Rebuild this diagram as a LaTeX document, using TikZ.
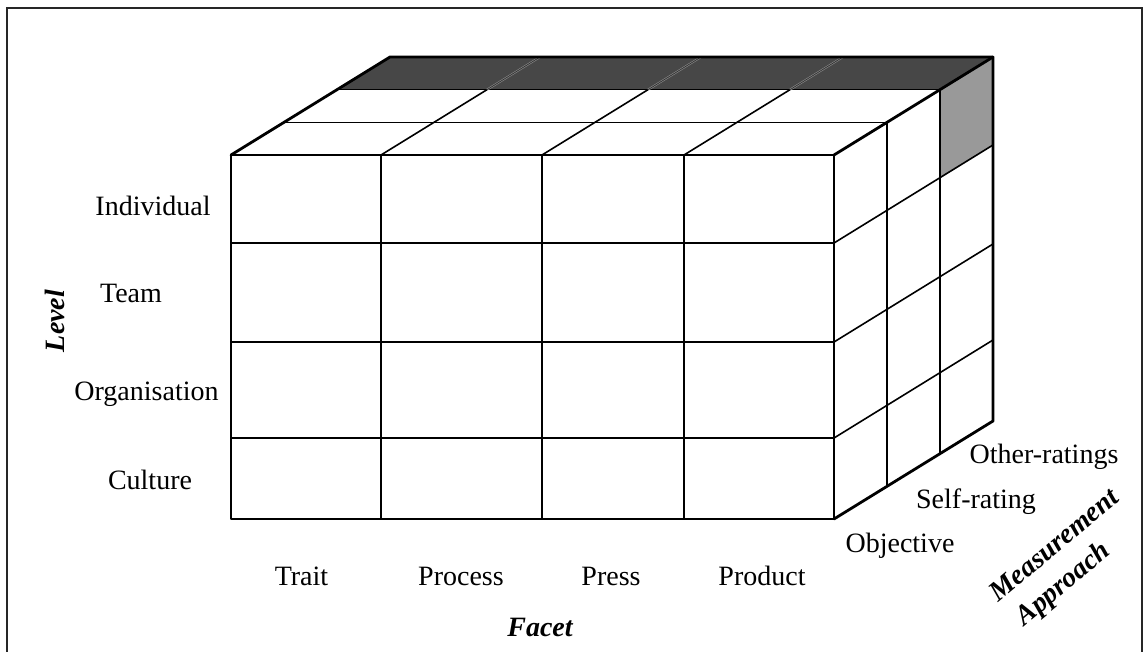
\documentclass[tikz,border=0pt]{standalone}
\usepackage{fontspec}
\setmainfont{Liberation Serif}
\begin{document}
\begin{tikzpicture}[x=1pt,y=-1pt,
  outer/.style={line width=2.8pt, line join=round, line cap=round},
  inner/.style={line width=1.6pt},
  seam/.style={line width=0.6pt, draw=black!45, double=black!80, double distance=0.8pt},
  lbl/.style={font=\fontsize{28}{32}\selectfont, inner sep=0pt, anchor=base},
  axislbl/.style={font=\fontsize{28}{32}\selectfont\bfseries\itshape, inner sep=0pt},
  frameline/.style={line width=2.2pt, draw=black!85}]
\useasboundingbox (0,0) rectangle (1147,652);

% outer frame, open at the bottom
\draw[frameline] (7,652) -- (7,8) -- (1142,8) -- (1142,652);

% corners of the block
\coordinate (ftl) at (231,155);
\coordinate (ftr) at (834,155);
\coordinate (fbl) at (231,519);
\coordinate (fbr) at (834,519);
\coordinate (btl) at (390,57);
\coordinate (btr) at (993,57);
\coordinate (bbr) at (993,421);

% shaded cells: back row of the top face, back upper cell of the side face
\fill[black!72] (337,89.67) -- (940,89.67) -- (btr) -- (btl) -- cycle;
\fill[black!40] (940,89.67) -- (btr) -- (993,145) -- (940,177.67) -- cycle;

% front face grid
\foreach \x in {381,542,684}
  \draw[inner] (\x,155) -- (\x,519);
\foreach \y in {243,342,438}
  \draw[inner] (231,\y) -- (834,\y);

% top face grid
\foreach \k in {1,2}
  \draw[inner] ({231+53*\k},{155-32.67*\k}) -- ({834+53*\k},{155-32.67*\k});
\foreach \x in {381,542,684} {
  \draw[inner] (\x,155) -- ({\x+106},89.67);
  \draw[seam] ({\x+106},89.67) -- ({\x+159},57);
}

% side face grid
\foreach \k in {1,2}
  \draw[inner] ({834+53*\k},{155-32.67*\k}) -- ({834+53*\k},{519-32.67*\k});
\foreach \y in {243,342,438}
  \draw[inner] (834,\y) -- (993,{\y-98});

% outline of the block
\draw[outer] (ftl) rectangle (fbr);
\draw[outer] (ftl) -- (btl) -- (btr) -- (bbr) -- (fbr);
\draw[outer] (ftr) -- (btr);

% level labels
\node[lbl] (lind) at (153,215) {Individual};
\node[lbl] (lteam) at (131,302.5) {Team};
\node[lbl] (lorg) at (146.5,400) {Organisation};
\node[lbl] (lcul) at (150,489) {Culture};
\node[axislbl, rotate=90] (level) at (55,321) {Level};

% facet labels
\node[lbl] (ftrait) at (301.5,585) {Trait};
\node[lbl] (fproc) at (461,585) {Process};
\node[lbl] (fpress) at (611,585) {Press};
\node[lbl] (fprod) at (762,585) {Product};
\node[axislbl, anchor=base] (facet) at (540,636) {Facet};

% measurement approach labels
\node[lbl] (mother) at (1044,463) {Other-ratings};
\node[lbl] (mself) at (976,508) {Self-rating};
\node[lbl] (mobj) at (900,552) {Objective};
\node[axislbl, rotate=40, align=left, font=\fontsize{28}{35.6}\selectfont\bfseries\itshape]
  (meas) at (1067,560) {Measurement\\\hspace*{4pt}Approach};
\end{tikzpicture}
\end{document}
